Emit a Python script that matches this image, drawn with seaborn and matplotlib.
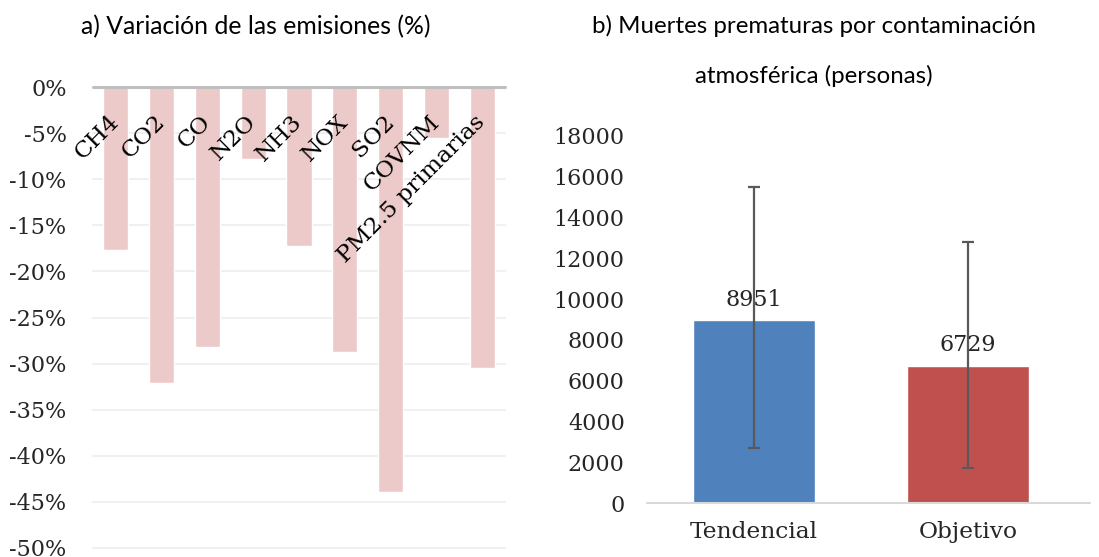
import matplotlib
matplotlib.use("Agg")
import matplotlib.pyplot as plt
import seaborn as sns
import numpy as np
import pandas as pd

# ---- data ----
pollutants = ["CH4", "CO2", "CO", "N2O", "NH3", "NOX", "SO2", "COVNM", "PM2.5 primarias"]
variation_pct = [-17.7, -32.1, -28.2, -7.8, -17.2, -28.7, -43.9, -5.5, -30.5]
pct_ticks = [0, -5, -10, -15, -20, -25, -30, -35, -40, -45, -50]

scenarios = ["Tendencial", "Objetivo"]
deaths = [8951, 6729]
deaths_low = [2710, 1715]
deaths_high = [15480, 12790]
death_ticks = [0, 2000, 4000, 6000, 8000, 10000, 12000, 14000, 16000, 18000]

title_a = "a) Variación de las emisiones (%)"
title_b = "b) Muertes prematuras por contaminación\natmosférica (personas)"

# ---- style ----
sns.set_theme(style="white")
plt.rcParams["font.family"] = ["DejaVu Serif"]
serif = "DejaVu Serif"
sans = "Lato"
fs_num = 16
fs_word = 16.8

fig = plt.figure(figsize=(10.99, 5.57), dpi=100)
W, H = 1099, 557

def axes_px(x0, y_top, x1, y_bot):
    return fig.add_axes([x0 / W, 1 - y_bot / H, (x1 - x0) / W, (y_bot - y_top) / H])

# ---- panel a ----
ax1 = axes_px(93, 87, 505, 548)
df1 = pd.DataFrame({"pollutant": pollutants, "value": variation_pct})
sns.barplot(data=df1, x="pollutant", y="value", color="#EDCACA", width=0.55,
            saturation=1, ax=ax1, zorder=2)
ax1.set_ylim(-50, 0)
ax1.set_xlim(-0.5, len(pollutants) - 0.5)
ax1.set_yticks(pct_ticks)
ax1.set_yticklabels([f"{t}%" for t in pct_ticks], fontsize=fs_num, family=serif)
for t in pct_ticks[1:]:
    ax1.axhline(t, color="#F0F0F0", lw=1.5, zorder=1, clip_on=False)
ax1.axhline(0, color="#BFBFBF", lw=2.2, zorder=3, clip_on=False)
ax1.set_xticks([])
ax1.set_xlabel("")
ax1.set_ylabel("")
for s in ax1.spines.values():
    s.set_visible(False)
ax1.tick_params(axis="y", length=0, pad=19)
for i, name in enumerate(pollutants):
    ax1.text(i, -3.4, name, rotation=45, rotation_mode="anchor", ha="right",
             va="center", fontsize=fs_word, family=serif, color="black", zorder=4)

fig.text(256 / W, 1 - 27 / H, title_a, ha="center", va="center",
         fontsize=17.8, family=sans, color="black")

# ---- panel b ----
ax2 = axes_px(647, 136, 1090, 503)
df2 = pd.DataFrame({"scenario": scenarios, "deaths": deaths})
sns.barplot(data=df2, x="scenario", y="deaths", hue="scenario",
            palette=["#4F81BD", "#C0504D"], width=0.57, saturation=1,
            legend=False, ax=ax2, zorder=2)
ax2.set_xlim(-0.5, 1.57)
ax2.set_ylim(0, 18000)
ax2.set_yticks(death_ticks)
ax2.set_yticklabels([str(t) for t in death_ticks], fontsize=fs_num, family=serif)
xpos = np.arange(len(scenarios))
yerr = [np.array(deaths) - np.array(deaths_low), np.array(deaths_high) - np.array(deaths)]
ax2.errorbar(xpos, deaths, yerr=yerr, fmt="none", ecolor="#595959",
             elinewidth=1.6, capsize=4, capthick=1.6, zorder=3)
for x, v in zip(xpos, deaths):
    ax2.annotate(str(v), (x, v), xytext=(0, 7), textcoords="offset points",
                 ha="center", va="bottom", fontsize=fs_num, family=serif, zorder=4)
ax2.axhline(0, color="#D9D9D9", lw=1.5, zorder=3, clip_on=False)
for s in ax2.spines.values():
    s.set_visible(False)
ax2.tick_params(axis="y", length=0, pad=16)
ax2.tick_params(axis="x", length=0, pad=13)
ax2.set_xticks(xpos)
ax2.set_xticklabels(scenarios, fontsize=fs_word, family=serif)
ax2.set_xlabel("")
ax2.set_ylabel("")

fig.text(814 / W, 1 - 51 / H, title_b, ha="center", va="center",
         fontsize=17.3, family=sans, color="black", linespacing=2.5)

fig.savefig("out.png", dpi=100)
